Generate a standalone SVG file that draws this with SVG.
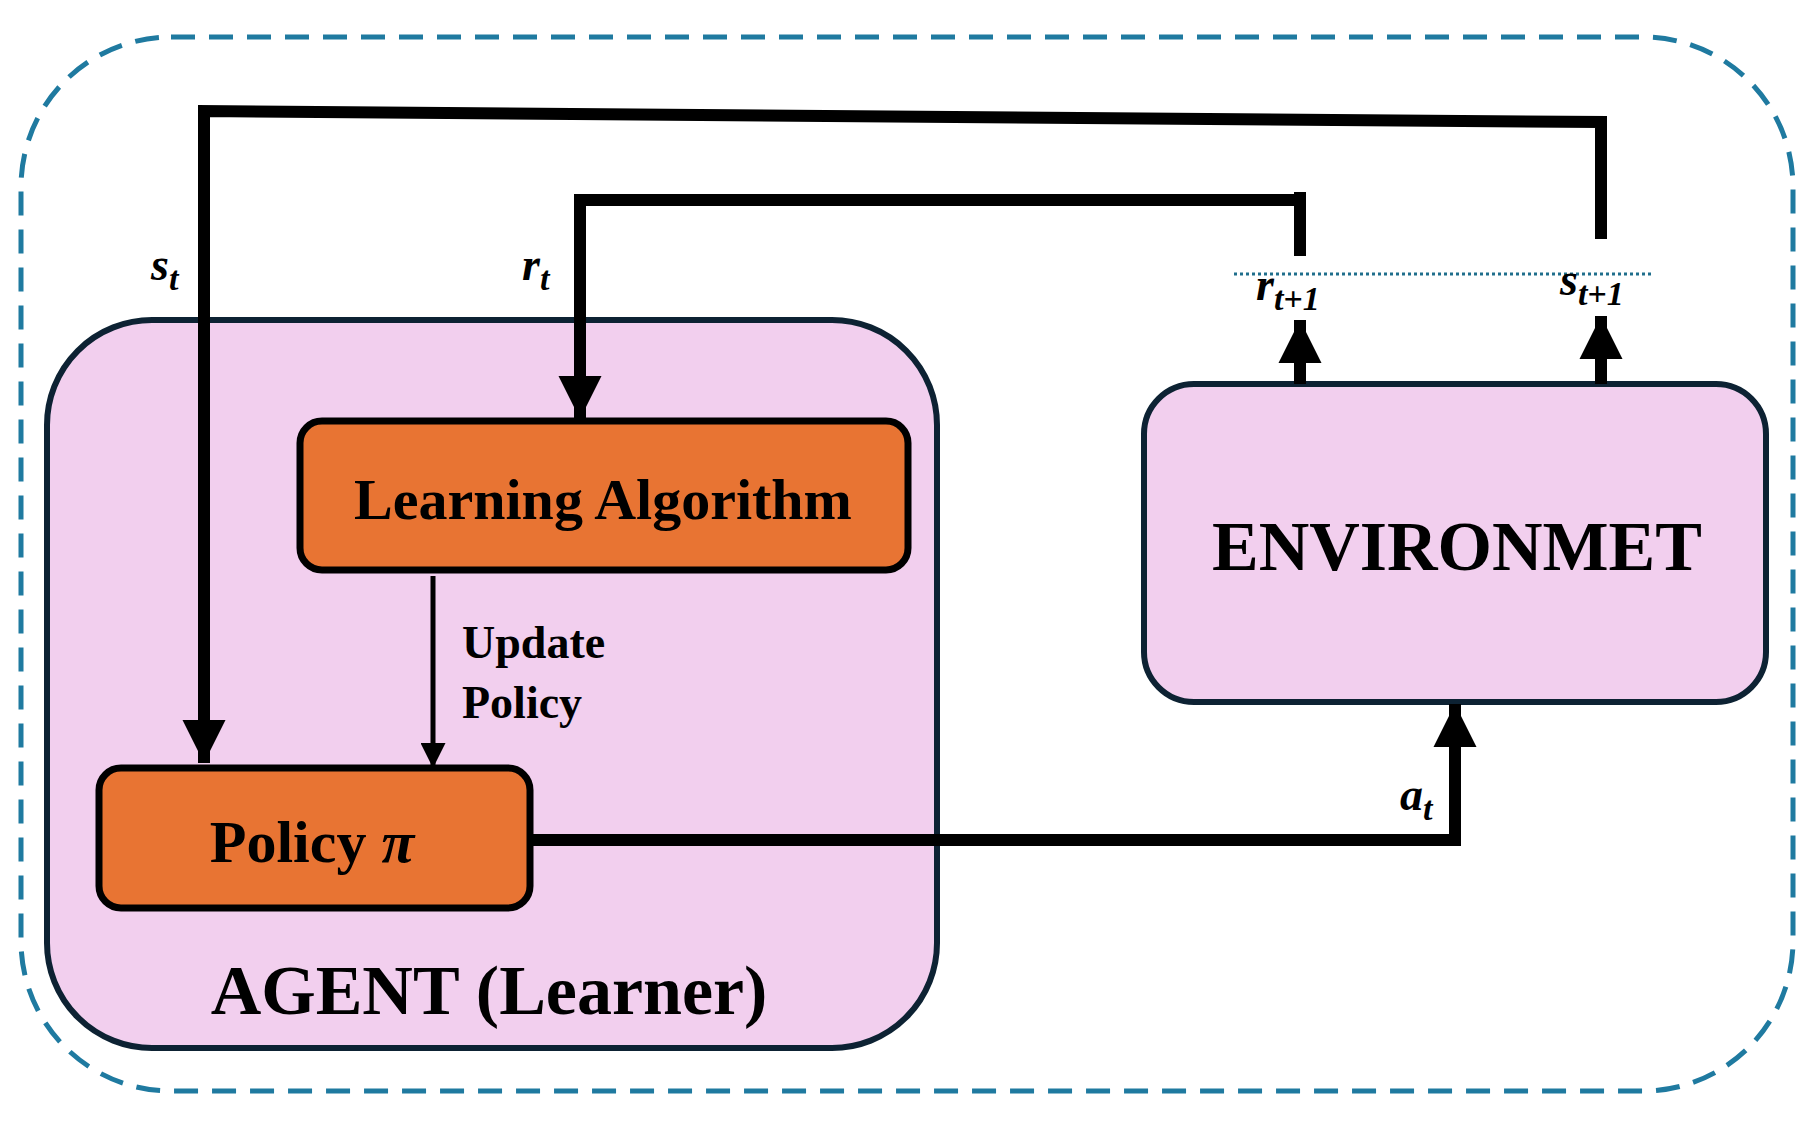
<svg xmlns="http://www.w3.org/2000/svg" width="1816" height="1125" viewBox="0 0 1816 1125">
<style>
.t{font-family:"Liberation Serif",serif;font-weight:bold;fill:#000}
.m{font-family:"Liberation Serif",serif;font-weight:bold;font-style:italic;fill:#000}
.c{fill:none;stroke:#000;stroke-width:12}
</style>
<defs>
<marker id="a" viewBox="0 0 10 10" refX="10" refY="5" markerWidth="3.6" markerHeight="3.6" orient="auto" markerUnits="strokeWidth"><path d="M0,0L10,5L0,10z" fill="#000"/></marker>
<marker id="b" viewBox="0 0 10 10" refX="10" refY="5" markerWidth="8" markerHeight="5" orient="auto" markerUnits="strokeWidth"><path d="M0,0L10,5L0,10z" fill="#000"/></marker>
</defs>
<rect id="frame" x="21" y="37" width="1772" height="1054" rx="150" fill="none" stroke="#1F7AA0" stroke-width="5" stroke-dasharray="24,14"/>
<g id="agent"><rect x="47" y="320" width="890" height="728" rx="105" fill="#F2CFEE" stroke="#0D2233" stroke-width="6"/>
<text class="t" x="489" y="1014" font-size="70" text-anchor="middle">AGENT (Learner)</text></g>
<g id="learning"><rect x="300" y="421" width="608" height="149" rx="22" fill="#E87433" stroke="#000" stroke-width="7"/>
<text class="t" x="603" y="519" font-size="58" text-anchor="middle">Learning Algorithm</text></g>
<g id="policy"><rect x="99" y="768" width="431" height="140" rx="22" fill="#E87433" stroke="#000" stroke-width="7"/>
<text class="t" x="312" y="862" font-size="60" text-anchor="middle">Policy <tspan font-style="italic">π</tspan></text></g>
<g id="env"><rect x="1144" y="384" width="622" height="318" rx="50" fill="#F2CFEE" stroke="#0D2233" stroke-width="6"/>
<text class="t" x="1457" y="570" font-size="70" text-anchor="middle">ENVIRONMET</text></g>
<g id="connectors">
<path class="c" d="M1601,239V122L204,111V763" marker-end="url(#a)"/>
<path class="c" d="M1300,256V200H580V419" marker-end="url(#a)"/>
<path class="c" d="M1300,192V208" />
<path class="c" d="M530,840H1455V704" marker-end="url(#a)"/>
<path class="c" d="M1300,384V320" marker-end="url(#a)"/>
<path class="c" d="M1601,384V316" marker-end="url(#a)"/>
<path d="M433,576V768" fill="none" stroke="#000" stroke-width="5" marker-end="url(#b)"/>
<line x1="1234" y1="274" x2="1653" y2="274" stroke="#1F6E8C" stroke-width="3" stroke-dasharray="3,3"/>
</g>
<g id="labels">
<text class="t" x="462" y="658" font-size="46">Update</text>
<text class="t" x="462" y="718" font-size="46">Policy</text>
<text class="m" x="151" y="280" font-size="46">s<tspan font-size="34" dy="10">t</tspan></text>
<text class="m" x="522" y="280" font-size="46">r<tspan font-size="34" dy="10">t</tspan></text>
<text class="m" x="1256" y="300" font-size="46">r<tspan font-size="34" dy="10">t+1</tspan></text>
<text class="m" x="1560" y="295" font-size="46">s<tspan font-size="34" dy="10">t+1</tspan></text>
<text class="m" x="1400" y="810" font-size="46">a<tspan font-size="34" dy="10">t</tspan></text>
</g>
</svg>
